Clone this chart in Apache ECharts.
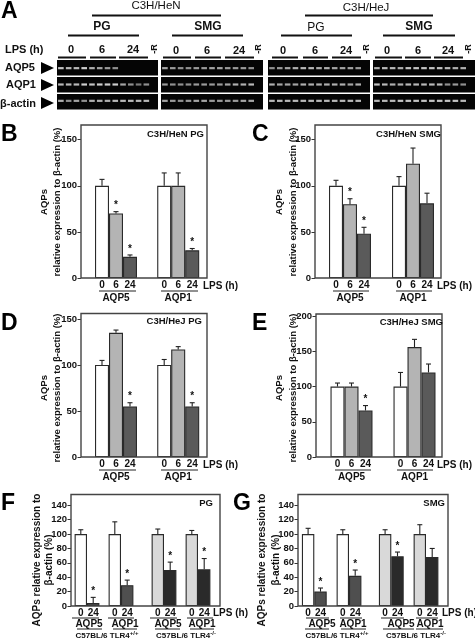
<!DOCTYPE html>
<html><head><meta charset="utf-8">
<style>html,body{margin:0;padding:0;background:#fff}#c{width:475px;height:640px}</style>
<script src="https://cdn.jsdelivr.net/npm/echarts@6/dist/echarts.min.js"></script></head>
<body><div id="c"></div>
<script>
// ---------- data: bar panels ----------
const groupsAB = ['AQP5','AQP1'];
const timesAB = ['0','6','24'];
const timesFG = ['0','24'];
const bValues = [[100,100],[70,100],[23,30]];
const bTops   = [[107,114],[72,114],[25,32]];
const bStars  = [[0,0],[1,0],[1,1]];
const cValues = [[100,100],[80,124],[48,81]];
const cTops   = [[106,110],[86,141],[55,92]];
const cStars  = [[0,0],[1,0],[1,0]];
const dValues = [[100,100],[135,117],[55,55]];
const dTops   = [[105,106],[138,120],[59,59]];
const dStars  = [[0,0],[0,0],[1,1]];
const eValues = [[100,100],[100,156],[66,120]];
const eTops   = [[105,120],[105,167],[73,132]];
const eStars  = [[0,0],[0,0],[1,0]];
const fWildValues = [[100,100],[4,29]];
const fWildTops   = [[106,117],[12,36]];
const fWildStars  = [[0,0],[1,1]];
const fMutValues  = [[100,100],[50,51]];
const fMutTops    = [[107,105],[61,66]];
const fMutStars   = [[0,0],[1,1]];
const gWildValues = [[100,100],[20,42]];
const gWildTops   = [[108,106],[25,50]];
const gWildStars  = [[0,0],[1,1]];
const gMutValues  = [[100,100],[69,68]];
const gMutTops    = [[106,113],[75,80]];
const gMutStars   = [[0,0],[1,0]];
const ticks50 = [0,50,100,150];
const ticks200 = [0,50,100,150,200];
const ticks20 = [0,20,40,60,80,100,120,140];
// ---------- data: gel bands (intensity 0..1, 12 lanes, last lane -R is empty) ----------
const gelRows = ['AQP5','AQP1','β-actin'];
const gel1 = [[.95,.9,.9,1,.85,.8,.75,.7,0,0,0,0],[.9,.9,.9,1,.95,1,1,1,.8,.7,.6,.7],[.85,.7,.8,.7,.85,.85,.85,.9,.9,.9,.9,.9]];
const gel2 = [[.8,.75,.7,.7,.75,.75,.8,.8,.75,.75,.75,.7],[.75,.7,.7,.7,.75,.75,.75,.75,.8,.85,.85,.9],[.8,.75,.7,.75,.8,.8,.75,.75,.75,.75,.8,.8]];
const gel3 = [[.7,.75,.8,.85,.9,.9,.85,.85,.8,.8,.8,.75],[.85,.8,.8,.8,.85,.85,.85,.85,.85,.85,.8,.85],[.9,.9,.9,.9,.9,.9,.9,.9,.9,.9,.9,.9]];
const gel4 = [[.85,.9,.9,.85,.95,.95,.95,.95,.95,.9,.85,.85],[.95,.9,.85,.85,.9,.9,.9,.9,.9,.7,.75,.7],[.9,.9,.9,.95,.95,.95,.95,.95,.95,.95,.95,.9]];
const gels = [gel1,gel2,gel3,gel4];
const gelBoxes = [[57,101],[161,102],[268,102],[373,102]];

const FONT = '"Liberation Sans",Arial,sans-serif';
const g = [];
function txt(s,x,y,size,o){o=o||{};g.push({type:'text',x,y,rotation:o.rot||0,z:20,style:{text:s,font:(o.weight||'bold')+' '+size+'px '+FONT,fill:o.fill||'#111',align:o.align||'center',verticalAlign:'middle',textAlign:o.align||'center',textVerticalAlign:'middle',rich:o.rich}});}
function ln(x1,x2,y,w,c){g.push({type:'line',z:20,shape:{x1,y1:y,x2,y2:y},style:{stroke:c||'#111',lineWidth:w||1}});}
function box(x,y,w,h,fill,stroke,lw,z){g.push({type:'rect',z:z||0,shape:{x,y,width:w,height:h},style:{fill:fill||'transparent',stroke:stroke||null,lineWidth:lw||0}});}

const grids=[],xAxes=[],yAxes=[],series=[];

function panel(p){
  const idx=grids.length;
  const slot=p.c2-p.c1;
  const left=p.c1-slot/2;
  grids.push({left,top:p.top,width:slot*2,height:p.bottom-p.top});
  xAxes.push({type:'category',gridIndex:idx,data:groupsAB,
    axisLine:{show:false},axisTick:{show:false},
    axisLabel:{show:!p.noCatLabels,margin:15,interval:0,fontFamily:FONT,fontWeight:'bold',fontSize:10,color:'#111'}});
  yAxes.push({type:'value',gridIndex:idx,show:!p.noY,min:0,max:p.max,offset:left-p.fx,splitLine:{show:false},
    axisLine:{show:false},
    axisTick:{show:true,length:3.5,lineStyle:{color:'#333',width:1},customValues:p.ticks},
    axisLabel:{customValues:p.ticks,margin:4,fontFamily:FONT,fontWeight:'bold',fontSize:p.tickSize||9.5,color:'#111'}});
  const n=p.values.length, bw=p.barW;
  p.values.forEach((vals,k)=>{
    const c=p.colors[k];
    series.push({type:'bar',xAxisIndex:idx,yAxisIndex:idx,barWidth:bw,barGap:'0%',data:vals,z:3,
      itemStyle:{color:c,borderColor:'#2a2a2a',borderWidth:1.1},
      label:{show:true,position:'bottom',distance:2,fontFamily:FONT,fontWeight:'bold',fontSize:10,color:'#111',formatter:()=>p.times[k]}});
    const off=(k-(n-1)/2)*bw;
    const errs=vals.map((v,i)=>[i,v,p.tops[k][i],p.stars[k][i]]);
    series.push({type:'custom',xAxisIndex:idx,yAxisIndex:idx,z:4,clip:false,data:errs,silent:true,
      encode:{x:0,y:2},
      renderItem:(params,api)=>{
        const a=api.coord([api.value(0),api.value(1)]),b=api.coord([api.value(0),api.value(2)]);
        const x=a[0]+off, ch=[
          {type:'line',shape:{x1:x,y1:a[1],x2:x,y2:b[1]},style:{stroke:'#222',lineWidth:1.1}},
          {type:'line',shape:{x1:x-2.5,y1:b[1],x2:x+2.5,y2:b[1]},style:{stroke:'#222',lineWidth:1.1}}];
        if(api.value(3)) ch.push({type:'text',x:x,y:b[1]-6,style:{text:'*',font:'bold 10px '+FONT,fill:'#111',textAlign:'center',textVerticalAlign:'middle'}});
        return {type:'group',children:ch};
      }});
  });
  if(!p.noFrame) box(p.fx,p.top,p.fw,p.bottom-p.top,null,p.frame||'#444',1.4,10);
}

const white='#ffffff',mid='#b4b4b4',dark='#5a5a5a',light='#d9d9d9',black='#2a2a2a',dark2='#4f4f4f';
const cols3=[white,mid,dark];
panel({fx:81,fw:126,top:125,bottom:278,max:166,ticks:ticks50,c1:116,c2:178.2,barW:14,values:bValues,tops:bTops,stars:bStars,colors:cols3,times:timesAB});
panel({fx:315,fw:126,top:125,bottom:278,max:166,ticks:ticks50,c1:350,c2:413,barW:14,values:cValues,tops:cTops,stars:cStars,colors:cols3,times:timesAB});
panel({fx:81,fw:126,top:313.5,bottom:457,max:156,ticks:ticks50,c1:116,c2:178.2,barW:14,values:dValues,tops:dTops,stars:dStars,colors:cols3,times:timesAB});
panel({fx:316,fw:126,top:314,bottom:457,max:203,ticks:ticks200,c1:351.5,c2:414.5,barW:14,values:eValues,tops:eTops,stars:eStars,colors:cols3,times:timesAB});
const fgTop=494.5,fgBot=606;
panel({fx:71,fw:149,top:fgTop,bottom:fgBot,max:155,ticks:ticks20,c1:87,c2:121,barW:12.4,values:fWildValues,tops:fWildTops,stars:fWildStars,colors:[white,dark2],times:timesFG,noCatLabels:true});
panel({fx:71,fw:149,top:fgTop,bottom:fgBot,max:155,ticks:ticks20,c1:164,c2:198,barW:12.4,values:fMutValues,tops:fMutTops,stars:fMutStars,colors:[light,black],times:timesFG,noCatLabels:true,noY:true,noFrame:true});
panel({fx:298,fw:150,top:fgTop,bottom:fgBot,max:155,ticks:ticks20,c1:314.3,c2:349,barW:12.4,values:gWildValues,tops:gWildTops,stars:gWildStars,colors:[white,dark2],times:timesFG,noCatLabels:true});
panel({fx:298,fw:150,top:fgTop,bottom:fgBot,max:155,ticks:ticks20,c1:391.3,c2:426,barW:12.4,values:gMutValues,tops:gMutTops,stars:gMutStars,colors:[light,black],times:timesFG,noCatLabels:true,noY:true,noFrame:true});

// gels
gels.forEach((rows,gi)=>{
  const idx=grids.length,[gx,gw]=gelBoxes[gi];
  grids.push({left:gx,top:60,width:gw,height:49});
  xAxes.push({type:'category',gridIndex:idx,show:false,data:['0a','0b','0c','0d','6a','6b','6c','6d','24a','24b','24c','24d','-R']});
  yAxes.push({type:'category',gridIndex:idx,show:false,inverse:true,data:gelRows});
  const data=[];
  rows.forEach((r,ri)=>r.forEach((v,li)=>{ if(v>0){const c=Math.round(255*v); data.push({value:[li,ri],itemStyle:{color:`rgb(${c},${c},${c})`}});} }));
  series.push({type:'scatter',xAxisIndex:idx,yAxisIndex:idx,symbol:'rect',symbolSize:[5.6,2.2],data,z:3,silent:true});
  [60,77,94].forEach(y=>box(gx,y,gw,15.5,'#050505',null,0,1));
});

// panel letters
[['A',1,12],['B',1,135],['C',252,135],['D',1,324],['E',252,324],['F',1,504],['G',233,504]].forEach(a=>txt(a[0],a[1],a[2],23,{align:'left',fill:'#000'}));

// panel A headers
txt('C3H/HeN',156,6,11.5,{weight:'normal'}); ln(92,221,15.5,2);
txt('C3H/HeJ',366,8,11.5,{weight:'normal'}); ln(305,433,15.5,2);
txt('PG',102,27,12); ln(68,139,35.5,2);
txt('SMG',208,27,12); ln(172,243,35.5,2);
txt('PG',316,28,12,{weight:'normal'}); ln(281,352,35.5,2);
txt('SMG',419,27,12); ln(383,455,35.5,2);
txt('LPS (h)',5,49.5,11,{align:'left'});
[[71,102,133,49.5,155,[58,86],[90,116],[119,148]],
 [176,207,239,51,259,[163,191],[195,221],[225,254]],
 [283,315,346,51,367,[272,298],[303,328],[332,361]],
 [387,418,448,51,469,[375,402],[405,431],[434,463]]].forEach(r=>{
  txt('0',r[0],r[3],11); txt('6',r[1],r[3],11); txt('24',r[2],r[3],11);
  txt('-R',r[4],49,9,{rot:Math.PI/2});
  [r[5],r[6],r[7]].forEach(u=>ln(u[0],u[1],57.5,2));
});
[['AQP5',5,68,68],['AQP1',6,85,85],['β-actin',0,104,103]].forEach(a=>{
  txt(a[0],a[1],a[2],11,{align:'left'});
  g.push({type:'polygon',z:20,shape:{points:[[41,a[3]-6],[54,a[3]],[41,a[3]+6]]},style:{fill:'#000'}});
});

// y titles
[[44,57,202],[279,293,202],[44,57,388],[279,293,388]].forEach(r=>{
  txt('AQPs',r[0],r[2],9.5,{rot:Math.PI/2});
  txt('relative expression to β-actin (%)',r[1],r[2],9.5,{rot:Math.PI/2});
});
[[37,49,560],[262,276,560]].forEach(r=>{
  txt('AQPs relative expression to',r[0],r[2],10,{rot:Math.PI/2});
  txt('β-actin (%)',r[1],r[2],10,{rot:Math.PI/2});
});
// panel titles
txt('C3H/HeN PG',204,134,9.5,{align:'right'});
txt('C3H/HeN SMG',441,134,9.5,{align:'right'});
txt('C3H/HeJ PG',202,321,9.5,{align:'right'});
txt('C3H/HeJ SMG',443,322,9.5,{align:'right'});
txt('PG',213,503,9.5,{align:'right'});
txt('SMG',445,503,9.5,{align:'right'});

// group labels and underlines below the bars
[[99,136],[161,198]].forEach(u=>ln(u[0],u[1],291,1,'#222'));
[[333,369],[396,432]].forEach(u=>ln(u[0],u[1],291,1,'#222'));
[[99,136],[161,198]].forEach(u=>ln(u[0],u[1],470,1,'#222'));
[[335,371],[397,433]].forEach(u=>ln(u[0],u[1],470,1,'#222'));
txt('LPS (h)',203,286,10,{align:'left'});
txt('LPS (h)',437,286,10,{align:'left'});
txt('LPS (h)',203,465,10,{align:'left'});
txt('LPS (h)',437,465,10,{align:'left'});

[[72,99],[108,134],[150,177],[187,213],[306,329],[340,362],[381,404],[416,438]].forEach(u=>ln(u[0],u[1],618,1,'#222'));
[[77,102],[113,137],[155,180],[190,214],[305,329],[341,366],[383,414],[416,443]].forEach(u=>ln(u[0],u[1],629,1,'#222'));
[['AQP5',89],['AQP1',125],['AQP5',168],['AQP1',202],['AQP5',322],['AQP1',353],['AQP5',401],['AQP1',430]].forEach(a=>txt(a[0],a[1],624,10));
txt('LPS (h)',213,613,10,{align:'left'});
txt('LPS (h)',442,613,10,{align:'left'});
const rich={s:{font:'bold 6px '+FONT,fill:'#111',verticalAlign:'top',padding:[0,0,5,0]},n:{font:'bold 8px '+FONT,fill:'#111'}};
[[107,'+/+'],[186,'-/-'],[337,'+/+'],[416,'-/-']].forEach(a=>txt('{n|C57BL/6 TLR4}{s|'+a[1]+'}',a[0],636,8,{rich}));

const chart=echarts.init(document.getElementById('c'),null,{renderer:'canvas'});
chart.setOption({animation:false,backgroundColor:'#fff',tooltip:{show:false},grid:grids,xAxis:xAxes,yAxis:yAxes,series,graphic:{elements:g}});
</script></body></html>
